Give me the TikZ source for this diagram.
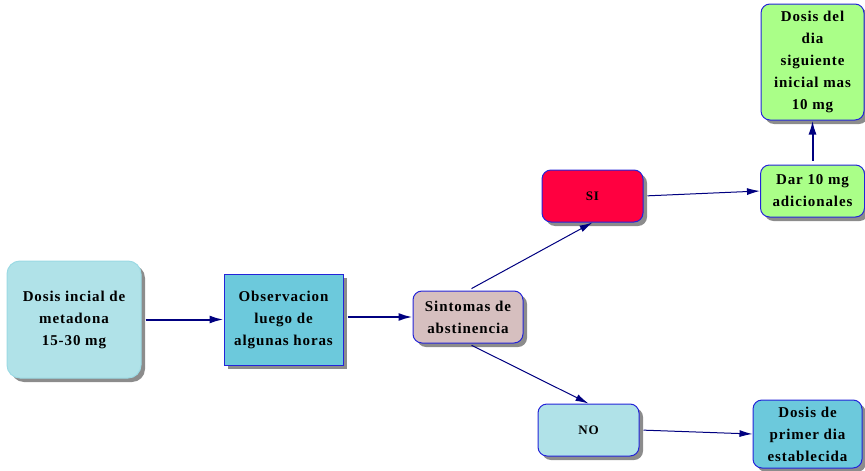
\documentclass[tikz,border=0pt]{standalone}
\usepackage{fontspec}
\setmainfont{Liberation Serif}[LetterSpace=6]
\usetikzlibrary{arrows.meta,shadows}
\definecolor{lcyan}{HTML}{B0E2E8}
\definecolor{dcyan}{HTML}{6CC9DC}
\definecolor{rose}{HTML}{D6BFBF}
\definecolor{sired}{HTML}{FF0040}
\definecolor{lgreen}{HTML}{AAFF88}
\definecolor{edgeblue}{HTML}{2424D8}
\definecolor{arrnavy}{HTML}{000080}
\tikzset{
  box/.style={draw=edgeblue, line width=1pt, align=center, inner sep=2pt,
    font=\fontsize{15}{22}\selectfont\bfseries,
    drop shadow={shadow xshift=4pt, shadow yshift=-4pt, fill=black!45, opacity=1}},
  rbox/.style={box, rounded corners=9pt},
  flow/.style={draw=arrnavy, line width=1pt, -{Latex[length=13pt,width=7pt]}, shorten <=4pt},
  thickflow/.style={flow, line width=2pt, -{Latex[length=14pt,width=8pt]}}
}
\begin{document}
\begin{tikzpicture}[x=1pt,y=-1pt]
\useasboundingbox (0,0) rectangle (865,471);
\node[rbox, rounded corners=13pt, draw=lcyan!70!dcyan, fill=lcyan, minimum width=134pt, minimum height=117pt] (start) at (74,319.5) {Dosis incial de\\metadona\\15-30 mg};
\node[box, fill=dcyan, minimum width=119pt, minimum height=91pt] (obs) at (283.5,319.5) {Observacion\\luego de\\algunas horas};
\node[rbox, fill=rose, minimum width=110pt, minimum height=52pt] (sint) at (468,317) {Sintomas de\\abstinencia};
\node[rbox, fill=sired, minimum width=101pt, minimum height=52pt, font=\fontsize{13}{15}\selectfont\bfseries] (si) at (592.5,196) {SI};
\node[rbox, fill=lgreen, minimum width=104pt, minimum height=52pt] (dar) at (812.5,191) {Dar 10 mg\\adicionales};
\node[rbox, fill=lgreen, minimum width=103pt, minimum height=116pt] (dia) at (812.5,62) {Dosis del\\dia\\siguiente\\inicial mas\\10 mg};
\node[rbox, fill=lcyan, minimum width=101pt, minimum height=52pt, font=\fontsize{13}{15}\selectfont\bfseries] (no) at (588.5,430) {NO};
\node[rbox, fill=dcyan, minimum width=109pt, minimum height=68pt] (prim) at (807.5,434) {Dosis de\\primer dia\\establecida};

\draw[thickflow] (start.east) -- (obs.west);
\draw[thickflow] (obs.east |- sint.west) -- (sint.west);
\draw[flow] (sint.north) -- (si.south);
\draw[flow] (sint.south) -- (no.north);
\draw[flow] (si.east) -- (dar.west);
\draw[thickflow] (dar.north) -- (dia.south);
\draw[flow] (no.east) -- (prim.west);
\end{tikzpicture}
\end{document}
